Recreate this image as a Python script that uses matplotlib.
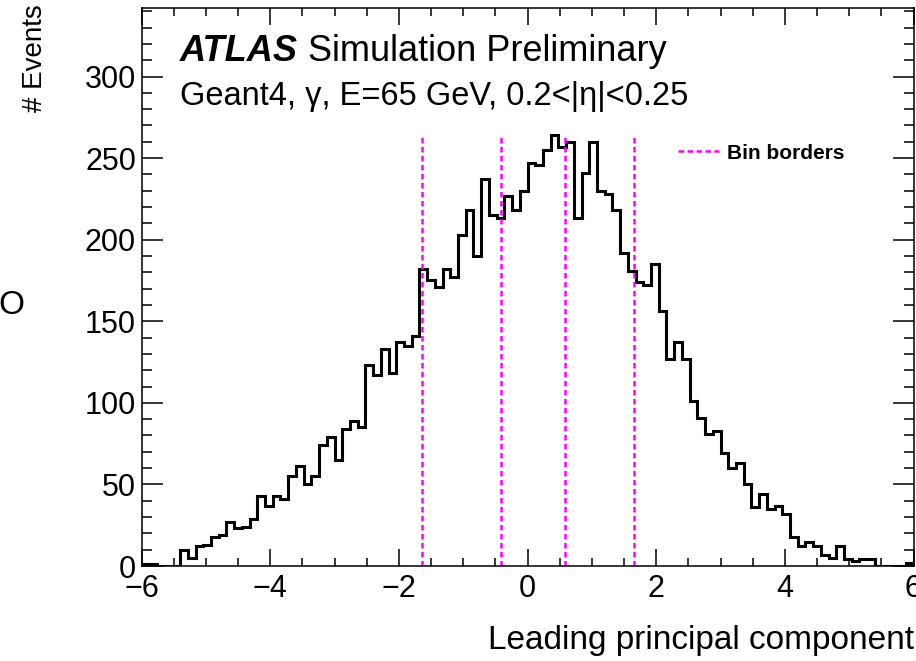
import numpy as np
import matplotlib
matplotlib.use("Agg")
import matplotlib.pyplot as plt
from matplotlib.ticker import MultipleLocator

plt.rcParams['font.family'] = ['Liberation Sans', 'DejaVu Sans']

# histogram of the leading principal component, 100 bins from -6 to 6
x_lo, x_hi, n_bins = -6.0, 6.0, 100
counts = [
    1, 1, 0, 0, 0, 10, 5, 12, 13, 18,
    19, 27, 23, 24, 29, 43, 37, 43, 41, 55,
    61, 50, 55, 74, 79, 65, 84, 89, 85, 123,
    117, 133, 118, 137, 135, 141, 182, 175, 171, 182,
    177, 203, 218, 190, 237, 215, 213, 227, 218, 230,
    247, 246, 255, 264, 257, 260, 213, 241, 260, 230,
    228, 218, 192, 181, 174, 172, 185, 156, 127, 137,
    127, 101, 91, 81, 83, 69, 60, 63, 50, 36,
    44, 35, 37, 32, 18, 12, 15, 12, 7, 5,
    12, 4, 3, 4, 4, 0, 0, 0, 0, 2,
]
bin_borders = [-1.64, -0.41, 0.59, 1.66]
border_top = 263
y_max = 342

edges = np.linspace(x_lo, x_hi, n_bins + 1)

fig = plt.figure(figsize=(9.16, 6.61), dpi=100)
ax = fig.add_axes([141.5 / 916, 95 / 661, 772 / 916, 558 / 661])

ax.stairs(counts, edges, color='black', lw=2.2)
ax.vlines(bin_borders, 0, border_top, colors='#ff00ff', lw=1.8,
          linestyles=[(0, (2.2, 1.4))], label='Bin borders')

ax.set_xlim(x_lo, x_hi)
ax.set_ylim(0, y_max)
ax.xaxis.set_major_locator(MultipleLocator(2))
ax.xaxis.set_minor_locator(MultipleLocator(0.5))
ax.yaxis.set_major_locator(MultipleLocator(50))
ax.yaxis.set_minor_locator(MultipleLocator(10))
ax.tick_params(which='both', direction='in', top=True, right=True, width=1.1,
               labelsize=22)
ax.tick_params(axis='x', which='major', length=12, pad=6)
ax.tick_params(axis='x', which='minor', length=6)
ax.tick_params(axis='y', which='major', length=15, pad=4)
ax.tick_params(axis='y', which='minor', length=7)
for s in ax.spines.values():
    s.set_linewidth(1.1)

t = ax.text(0.05, 0.905, 'ATLAS', transform=ax.transAxes, fontsize=26,
            fontweight='bold', fontstyle='italic', va='baseline')
ax.annotate(' Simulation Preliminary', xy=(1, 0), xycoords=t, fontsize=26,
            va='bottom')
ax.text(0.05, 0.826, 'Geant4, γ, E=65 GeV, 0.2<|η|<0.25',
        transform=ax.transAxes, fontsize=23.5, va='baseline')

leg = ax.legend(loc='center left', bbox_to_anchor=(0.695, 0.74),
                frameon=False, borderpad=0, borderaxespad=0,
                handlelength=1.95, handletextpad=0.4,
                prop={'weight': 'bold', 'size': 15})

ax.set_xlabel('Leading principal component', fontsize=24, loc='right',
              labelpad=15)
fig.text(35 / 916, 1 - 112 / 661, '# Events', rotation=90, fontsize=20,
         ha='center', va='bottom')
fig.text(-2 / 916, 1 - 305 / 661, 'O', fontsize=24, ha='left', va='center')

fig.savefig('out.png', dpi=100)
